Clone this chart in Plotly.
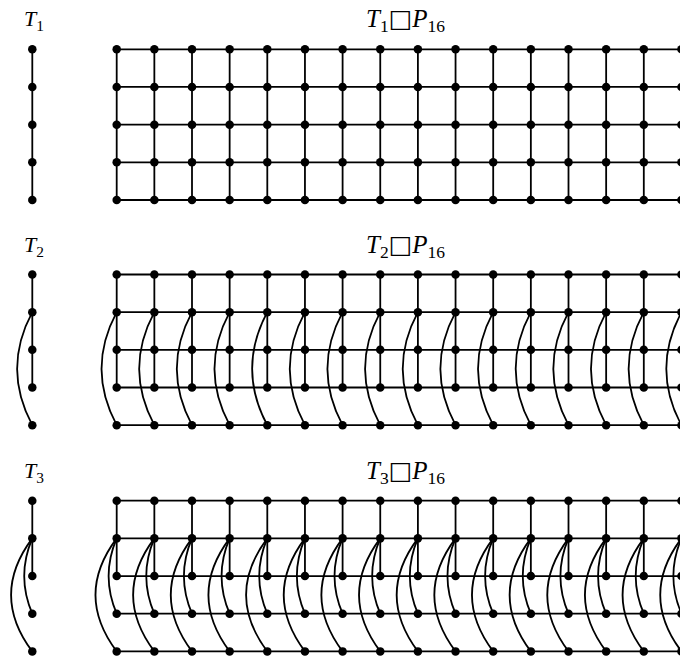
import plotly.graph_objects as go

# ---- data ----
tree_names = ["T1", "T2", "T3"]
tree_labels = ["<i>T</i><sub>1</sub>", "<i>T</i><sub>2</sub>", "<i>T</i><sub>3</sub>"]
BOX = "<span style=\"font-family:'DejaVu Sans'\">□</span>"
product_labels = [f"<i>T</i><sub>1</sub>{BOX}<i>P</i><sub>16</sub>",
                  f"<i>T</i><sub>2</sub>{BOX}<i>P</i><sub>16</sub>",
                  f"<i>T</i><sub>3</sub>{BOX}<i>P</i><sub>16</sub>"]
n_vertices = 5
path_length = 16
tree_edges = {
    "T1": [(1, 2), (2, 3), (3, 4), (4, 5)],
    "T2": [(1, 2), (2, 3), (3, 4), (2, 5)],
    "T3": [(1, 2), (2, 3), (2, 4), (2, 5)],
}
# curved (bent) edges: bulge to the left, in pixels
curved_edges = {
    "T2": {(2, 5): 15},
    "T3": {(2, 4): 8, (2, 5): 21},
}

# ---- layout geometry (pixel coordinates) ----
W, H = 680, 656
tree_x = 32.3
grid_x0 = 116.7
dx = 37.65
dy = 37.67
block_top = [49.3, 274.5, 500.7]
label_y_off = -29
LW = 1.8
BLACK = "black"

fig = go.Figure()
shapes = []


def vy(b, v):
    return block_top[b] + (v - 1) * dy


def add_edge(xs, ys, x, b, u, v, bulge):
    y0, y1 = vy(b, u), vy(b, v)
    if bulge:
        L = y1 - y0
        cx = x - 4.0 * bulge / 3.0
        path = f"M {x},{y0} C {cx},{y0 + 0.33 * L} {cx},{y1 - 0.33 * L} {x},{y1}"
        shapes.append(dict(type="path", path=path, xref="x", yref="y",
                           line=dict(color=BLACK, width=LW), layer="below"))
    else:
        xs += [x, x, None]
        ys += [y0, y1, None]


col_x = [grid_x0 + k * dx for k in range(path_length)]

for b, name in enumerate(tree_names):
    xs, ys = [], []
    bends = curved_edges.get(name, {})
    for (u, v) in tree_edges[name]:
        add_edge(xs, ys, tree_x, b, u, v, bends.get((u, v), 0))
    for cx in col_x:
        for (u, v) in tree_edges[name]:
            add_edge(xs, ys, cx, b, u, v, bends.get((u, v), 0))
    for v in range(1, n_vertices + 1):
        xs += [col_x[0], col_x[-1], None]
        ys += [vy(b, v), vy(b, v), None]
    fig.add_trace(go.Scatter(x=xs, y=ys, mode="lines",
                             line=dict(color=BLACK, width=LW),
                             hoverinfo="skip", showlegend=False))
    px, py = [], []
    for v in range(1, n_vertices + 1):
        px.append(tree_x)
        py.append(vy(b, v))
        for cx in col_x:
            px.append(cx)
            py.append(vy(b, v))
    fig.add_trace(go.Scatter(x=px, y=py, mode="markers",
                             marker=dict(color=BLACK, size=8.5),
                             hoverinfo="skip", showlegend=False))
    fig.add_annotation(x=tree_x + 1.5, y=block_top[b] + label_y_off,
                       text=tree_labels[b], showarrow=False,
                       font=dict(family="Liberation Serif", size=22, color=BLACK),
                       xanchor="center", yanchor="middle")
    fig.add_annotation(x=405, y=block_top[b] + label_y_off,
                       text=product_labels[b], showarrow=False,
                       font=dict(family="Liberation Serif", size=25, color=BLACK),
                       xanchor="center", yanchor="middle")

fig.update_layout(
    width=W, height=H,
    margin=dict(l=0, r=0, t=0, b=0),
    paper_bgcolor="white", plot_bgcolor="white",
    xaxis=dict(range=[0, W], visible=False, fixedrange=True),
    yaxis=dict(range=[H, 0], visible=False, fixedrange=True),
    shapes=shapes,
)

fig.write_html(
    "out.html",
    config={"displayModeBar": False, "staticPlot": True},
    post_script="document.body.style.margin='0px';document.body.style.overflow='hidden';",
)
